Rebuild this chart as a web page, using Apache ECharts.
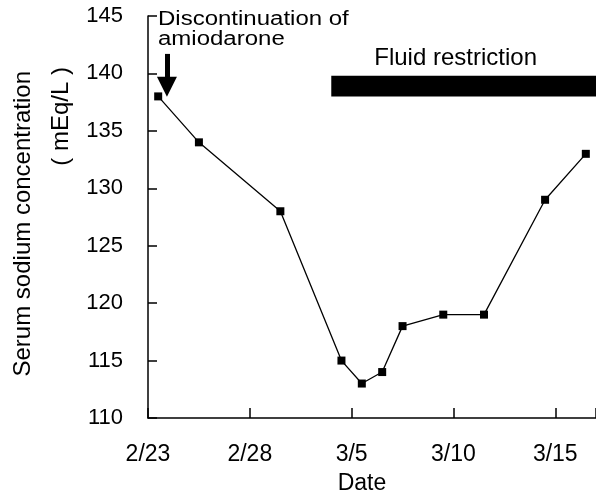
<!DOCTYPE html>
<html>
<head>
<meta charset="utf-8">
<script src="https://cdn.jsdelivr.net/npm/echarts@6/dist/echarts.min.js"></script>
<style>
  html, body { margin: 0; padding: 0; background: #fff; }
  #main { width: 596px; height: 493px; }
</style>
</head>
<body>
<div id="main"></div>
<script>
// days counted from 2/23
const dayOffsets = [0.5, 2.5, 6.5, 9.5, 10.5, 11.5, 12.5, 14.5, 16.5, 19.5, 21.5];
const sodium = [138, 134, 128, 115, 113, 114, 118, 119, 119, 129, 133];
const dateTickLabels = ['2/23', '2/28', '3/5', '3/10', '3/15'];
const yTicks = [110, 115, 120, 125, 130, 135, 140, 145];

// fluid restriction period (days) and band height (mEq/L)
const fluidDays = [9, 22];
const fluidBand = [138, 139.8];
// arrow: discontinuation of amiodarone
const arrowDay = 0.93;
const arrowLevels = [141.7, 138.85];

const FONT = 'Liberation Sans, Arial, sans-serif';

const chart = echarts.init(document.getElementById('main'), null, { renderer: 'canvas' });

const option = {
  animation: false,
  backgroundColor: '#fff',
  textStyle: { fontFamily: FONT, color: '#000' },
  grid: {
    left: 148, right: 0, top: 16, bottom: 75,
    containLabel: false,
    outerBoundsMode: 'none'
  },
  xAxis: {
    type: 'value',
    min: 0,
    max: 22,
    interval: 5,
    name: 'Date',
    nameLocation: 'middle',
    nameGap: 54,
    nameTextStyle: { fontFamily: FONT, fontSize: 23, color: '#000', padding: [0, 20, 0, 0] },
    splitLine: { show: false },
    axisLine: { lineStyle: { color: '#000', width: 1.5 } },
    axisTick: {
      inside: true, length: 10,
      lineStyle: { color: '#000', width: 1.5 }
    },
    axisLabel: {
      margin: 25,
      fontFamily: FONT,
      fontSize: 23,
      color: '#000',
      formatter: (v) => (v % 5 === 0 ? dateTickLabels[v / 5] || '' : '')
    }
  },
  yAxis: {
    type: 'value',
    min: yTicks[0],
    max: yTicks[yTicks.length - 1],
    interval: 5,
    splitLine: { show: false },
    axisLine: { show: true, lineStyle: { color: '#000', width: 1.5 } },
    axisTick: {
      show: true, inside: true, length: 9,
      lineStyle: { color: '#000', width: 1.5 }
    },
    axisLabel: {
      margin: 25,
      padding: [7, 0, 0, 0],
      fontFamily: FONT,
      fontSize: 22,
      color: '#000'
    }
  },
  graphic: [
    {
      type: 'text',
      x: 23,
      y: 71,
      rotation: Math.PI / 2,
      style: {
        text: 'Serum sodium concentration',
        font: '24px ' + FONT,
        fill: '#000',
        textAlign: 'right',
        textVerticalAlign: 'middle'
      }
    },
    {
      type: 'text',
      x: 61,
      y: 67,
      rotation: Math.PI / 2,
      style: {
        text: '( mEq/L )',
        font: '24px ' + FONT,
        fill: '#000',
        textAlign: 'right',
        textVerticalAlign: 'middle'
      }
    },
    {
      type: 'text',
      x: 158,
      y: 10,
      scaleX: 1.2,
      style: {
        text: 'Discontinuation of\namiodarone',
        font: '20px ' + FONT,
        lineHeight: 19.5,
        fill: '#000',
        textAlign: 'left',
        textVerticalAlign: 'top'
      }
    }
  ],
  series: [
    {
      type: 'line',
      data: dayOffsets.map((d, i) => [d, sodium[i]]),
      symbol: 'rect',
      symbolSize: 8,
      lineStyle: { color: '#000', width: 1.3 },
      itemStyle: { color: '#000' },
      clip: false,
      markArea: {
        silent: true,
        itemStyle: { color: '#000' },
        label: {
          show: true,
          position: 'top',
          distance: 5,
          offset: [-8, 0],
          fontFamily: FONT,
          fontSize: 24,
          color: '#000'
        },
        data: [[
          { name: 'Fluid restriction', coord: [fluidDays[0], fluidBand[0]] },
          { coord: [fluidDays[1], fluidBand[1]] }
        ]]
      },
      markLine: {
        silent: true,
        symbol: ['none', 'triangle'],
        symbolSize: [20, 20],
        lineStyle: { color: '#000', width: 5, type: 'solid' },
        itemStyle: { color: '#000' },
        label: { show: false },
        data: [[
          { coord: [arrowDay, arrowLevels[0]] },
          { coord: [arrowDay, arrowLevels[1]] }
        ]]
      }
    }
  ]
};

chart.setOption(option);
</script>
</body>
</html>
